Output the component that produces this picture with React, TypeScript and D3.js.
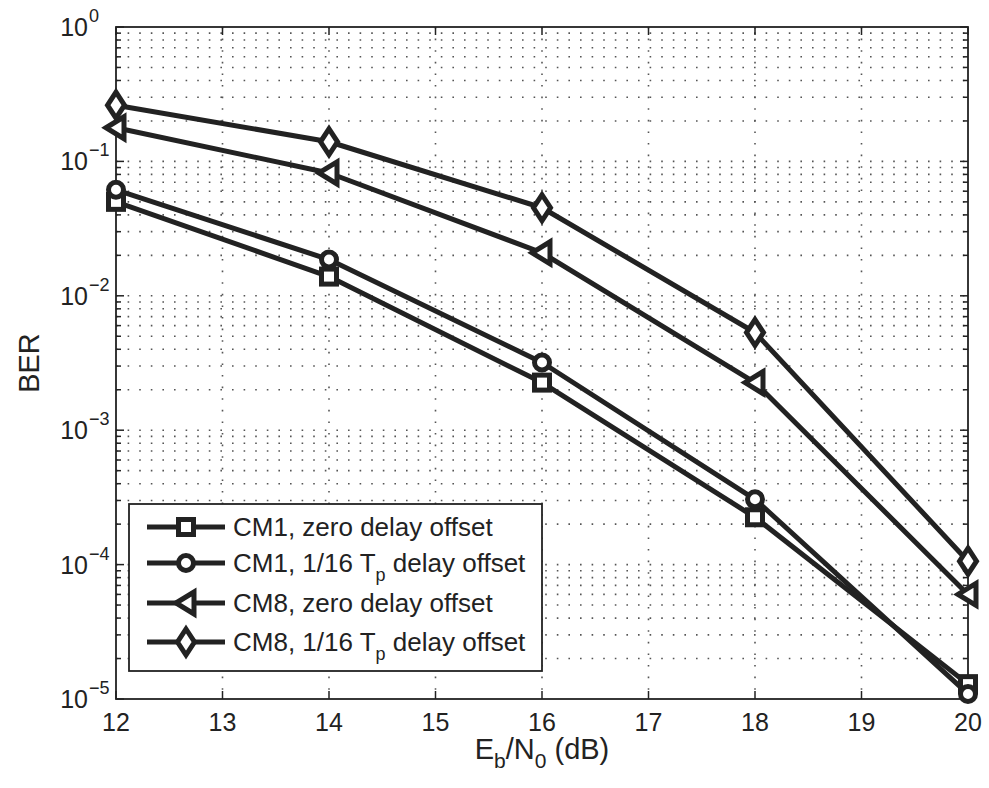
import React from "react";
import * as d3 from "d3";

const ebn0 = [12, 14, 16, 18, 20];
const cm1Zero = [0.050, 0.0139, 0.00226, 0.000225, 0.0000129];
const cm1Sixteenth = [0.0615, 0.0186, 0.00319, 0.000306, 0.0000109];
const cm8Zero = [0.178, 0.082, 0.0209, 0.00226, 0.000060];
const cm8Sixteenth = [0.262, 0.140, 0.0452, 0.00533, 0.000106];
const xTicks = [12, 13, 14, 15, 16, 17, 18, 19, 20];
const yExponents = [0, -1, -2, -3, -4, -5];
const seriesNames = [
  ["CM1, zero delay offset", ""],
  ["CM1, 1/16 T", "p", " delay offset"],
  ["CM8, zero delay offset", ""],
  ["CM8, 1/16 T", "p", " delay offset"],
];
const markerKinds = ["square", "circle", "triangle", "diamond"];

const W = 989;
const H = 788;
const M = { left: 116, right: 968, top: 27, bottom: 699 };
const INK = "#222";
const FONT = "Liberation Sans, Arial, Helvetica, sans-serif";

function Marker({ kind, x, y }: { kind: string; x: number; y: number }) {
  const common = { fill: "#fff", stroke: INK, strokeWidth: 5, strokeLinejoin: "miter" as const };
  if (kind === "square") return <rect x={x - 7.5} y={y - 7.5} width={15} height={15} {...common} />;
  if (kind === "circle") return <circle cx={x} cy={y} r={7.5} {...common} />;
  if (kind === "triangle")
    return <path d={`M${x - 10},${y} L${x + 8},${y - 11} L${x + 8},${y + 11} Z`} {...common} />;
  return <path d={`M${x},${y - 13} L${x + 8.5},${y} L${x},${y + 13} L${x - 8.5},${y} Z`} {...common} />;
}

export default function App() {
  const x = d3.scaleLinear().domain([12, 20]).range([M.left, M.right]);
  const y = d3.scaleLog().domain([1e-5, 1]).range([M.bottom, M.top]);
  const series = [cm1Zero, cm1Sixteenth, cm8Zero, cm8Sixteenth];
  const line = d3
    .line<number>()
    .x((_, i) => x(ebn0[i]))
    .y((d) => y(d));

  const minorVals: number[] = [];
  for (let e = -5; e < 0; e++) for (let k = 2; k <= 9; k++) minorVals.push(k * Math.pow(10, e));
  const majorVals = yExponents.map((e) => Math.pow(10, e));

  const dot = { stroke: "#555", strokeWidth: 1.6, strokeDasharray: "1.6 10" };

  const legendRows = [527, 563, 603, 642];

  return (
    <svg width={W} height={H} style={{ position: "absolute", left: 0, top: 0, background: "#fff" }} fontFamily={FONT}>
      <rect x={0} y={0} width={W} height={H} fill="#fff" />
      {/* grid */}
      {[...minorVals, ...majorVals.slice(1, -1)].map((v, i) => (
        <line key={"hg" + i} x1={M.left} x2={M.right} y1={y(v)} y2={y(v)} {...dot} />
      ))}
      {xTicks.slice(1, -1).map((t) => (
        <line key={"vg" + t} x1={x(t)} x2={x(t)} y1={M.top} y2={M.bottom} {...dot} />
      ))}
      {/* ticks */}
      {xTicks.map((t) => (
        <g key={"xt" + t}>
          <line x1={x(t)} x2={x(t)} y1={M.bottom} y2={M.bottom - 8} stroke={INK} strokeWidth={1.5} />
          <line x1={x(t)} x2={x(t)} y1={M.top} y2={M.top + 8} stroke={INK} strokeWidth={1.5} />
          <text x={x(t)} y={M.bottom + 32} textAnchor="middle" fontSize={25} fill={INK}>
            {t}
          </text>
        </g>
      ))}
      {majorVals.map((v, i) => (
        <g key={"ym" + i}>
          <line x1={M.left} x2={M.left + 8} y1={y(v)} y2={y(v)} stroke={INK} strokeWidth={1.5} />
          <line x1={M.right} x2={M.right - 8} y1={y(v)} y2={y(v)} stroke={INK} strokeWidth={1.5} />
        </g>
      ))}
      {minorVals.map((v, i) => (
        <g key={"yn" + i}>
          <line x1={M.left} x2={M.left + 5} y1={y(v)} y2={y(v)} stroke={INK} strokeWidth={1.5} />
          <line x1={M.right} x2={M.right - 5} y1={y(v)} y2={y(v)} stroke={INK} strokeWidth={1.5} />
        </g>
      ))}
      {yExponents.map((e) => (
        <text key={"yl" + e} x={88} y={y(Math.pow(10, e)) + 9} textAnchor="end" fontSize={25} fill={INK}>
          10
        </text>
      ))}
      {yExponents.map((e) => (
        <text key={"ye" + e} x={89} y={y(Math.pow(10, e)) - 5} fontSize={18} fill={INK}>
          {e === 0 ? "0" : "\u2212" + Math.abs(e)}
        </text>
      ))}
      {/* box */}
      <rect x={M.left} y={M.top} width={M.right - M.left} height={M.bottom - M.top} fill="none" stroke={INK} strokeWidth={1.8} />
      {/* series */}
      {series.map((s, si) => (
        <g key={"s" + si}>
          <path d={line(s) || ""} fill="none" stroke={INK} strokeWidth={5} strokeLinejoin="round" />
          {s.map((v, i) => (
            <Marker key={i} kind={markerKinds[si]} x={x(ebn0[i])} y={y(v)} />
          ))}
        </g>
      ))}
      {/* legend */}
      <rect x={129} y={504} width={413} height={167} fill="#fff" stroke={INK} strokeWidth={1.8} />
      {seriesNames.map((n, i) => (
        <g key={"lg" + i}>
          <line x1={147} x2={225} y1={legendRows[i]} y2={legendRows[i]} stroke={INK} strokeWidth={5} />
          <Marker kind={markerKinds[i]} x={186} y={legendRows[i]} />
          <text x={233} y={legendRows[i] + 9} fontSize={26} fill={INK}>
            {n[0]}
            {n.length > 2 ? (
              <>
                <tspan fontSize={18} dy={9}>{n[1]}</tspan>
                <tspan dy={-9}>{n[2]}</tspan>
              </>
            ) : null}
          </text>
        </g>
      ))}
      {/* axis labels */}
      <text x={(M.left + M.right) / 2} y={759} textAnchor="middle" fontSize={29} fill={INK}>
        E<tspan fontSize={21} dy={9}>b</tspan>
        <tspan dy={-9}>/N</tspan>
        <tspan fontSize={21} dy={9}>0</tspan>
        <tspan dy={-9}> (dB)</tspan>
      </text>
      <text transform={`translate(39, ${(M.top + M.bottom) / 2}) rotate(-90)`} textAnchor="middle" fontSize={29} fill={INK}>
        BER
      </text>
    </svg>
  );
}
